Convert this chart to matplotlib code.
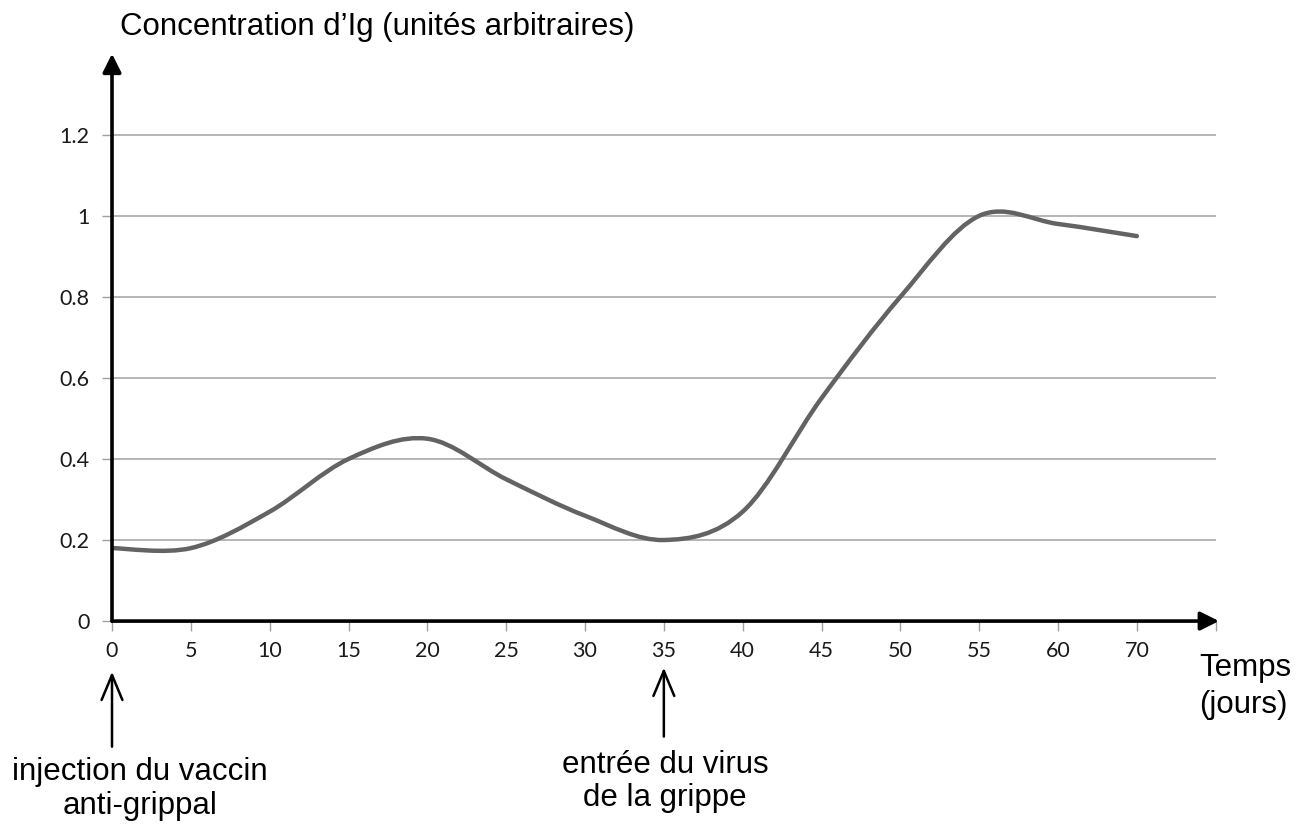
import numpy as np
import matplotlib
matplotlib.use("Agg")
import matplotlib.pyplot as plt
from matplotlib.path import Path
from matplotlib.patches import PathPatch

# categories on the x axis (Excel-style category axis, evenly spaced)
jours = ["0", "5", "10", "15", "20", "25", "30", "35", "40", "45", "50", "55", "60", "70"]
conc_ig = [0.18, 0.18, 0.27, 0.40, 0.45, 0.35, 0.26, 0.20, 0.27, 0.55, 0.80, 1.00, 0.98, 0.95]
y_ticks = [0, 0.2, 0.4, 0.6, 0.8, 1.0, 1.2]
y_labels = ["0", "0.2", "0.4", "0.6", "0.8", "1", "1.2"]


def smooth_path(xs, ys):
    # catmull-rom -> cubic bezier, like Excel's "smoothed line"
    p = np.column_stack([xs, ys]).astype(float)
    ext = np.vstack([p[0], p, p[-1]])
    verts = [tuple(p[0])]
    codes = [Path.MOVETO]
    for i in range(len(p) - 1):
        p0, p1, p2, p3 = ext[i], ext[i + 1], ext[i + 2], ext[i + 3]
        c1 = p1 + (p2 - p0) / 6.0
        c2 = p2 - (p3 - p1) / 6.0
        verts += [tuple(c1), tuple(c2), tuple(p2)]
        codes += [Path.CURVE4] * 3
    return Path(verts, codes)


W, H = 1310, 827
fig = plt.figure(figsize=(W / 100, H / 100), dpi=100)
ax = fig.add_axes([0.0855, 0.249, 0.8425, 0.686])

x = np.arange(len(jours))
ax.set_xlim(0, len(jours))
ax.set_ylim(0, 1.4)

# light horizontal gridlines
for v in y_ticks[1:]:
    ax.axhline(v, color="#b0b0b0", lw=1.3, zorder=1)

curve = PathPatch(smooth_path(x, conc_ig), facecolor="none", edgecolor="#636363",
                  lw=3.2, capstyle="round", zorder=3)
ax.add_patch(curve)

for s in ax.spines.values():
    s.set_visible(False)

ax.set_yticks(y_ticks)
ax.set_yticklabels(y_labels, fontfamily="Lato", fontsize=15.5, color="#1a1a1a")
ax.set_xticks(np.arange(len(jours) + 1))
ax.set_xticklabels(jours + [""], fontfamily="Lato", fontsize=15.5, color="#1a1a1a")
ax.tick_params(axis="y", length=7, width=1, color="#a0a0a0", pad=9)
ax.tick_params(axis="x", length=7, width=1, color="#a0a0a0", pad=7)

# axis arrows
arr = dict(arrowstyle="-|>", lw=2.6, color="k", mutation_scale=28, shrinkA=0, shrinkB=0)
ax.annotate("", xy=(1.003, 0), xytext=(0, 0), xycoords="axes fraction",
            arrowprops=arr, annotation_clip=False, zorder=5)
ax.annotate("", xy=(0, 1.0), xytext=(0, 0), xycoords="axes fraction",
            arrowprops=arr, annotation_clip=False, zorder=5)


def put(px, py, s, ha="center"):
    fig.text(px / W, 1 - py / H, s, ha=ha, va="center",
             fontfamily="Liberation Sans", fontsize=22.5, color="k")


put(120, 27, "Concentration d\u2019Ig (unités arbitraires)", ha="left")
put(1199, 668, "Temps", ha="left")
put(1199, 705, "(jours)", ha="left")
put(140, 772, "injection du vaccin")
put(140, 806, "anti-grippal")
put(665, 765, "entrée du virus")
put(665, 798, "de la grippe")

# event arrows under the axis
small = dict(arrowstyle="->,head_width=0.25,head_length=0.6", lw=1.8, color="k",
             mutation_scale=30, shrinkA=0, shrinkB=0)
ax.annotate("", xy=(0, -0.125), xytext=(0, -0.31), arrowprops=small, annotation_clip=False)
ax.annotate("", xy=(7, -0.115), xytext=(7, -0.285), arrowprops=small, annotation_clip=False)

fig.savefig("out.png", dpi=100)
